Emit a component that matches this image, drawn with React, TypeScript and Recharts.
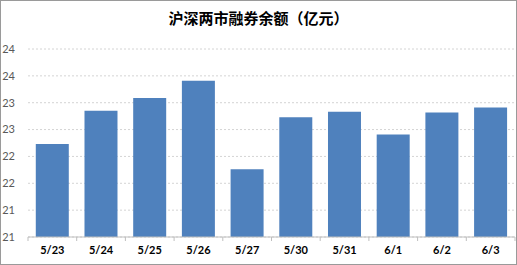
import { BarChart, Bar, XAxis, YAxis, CartesianGrid } from "recharts";

const dates = ["5/23", "5/24", "5/25", "5/26", "5/27", "5/30", "5/31", "6/1", "6/2", "6/3"];
const balances = [22.23, 22.85, 23.09, 23.41, 21.76, 22.73, 22.83, 22.41, 22.82, 22.91];
const yTicks = [20.5, 21, 21.5, 22, 22.5, 23, 23.5, 24];

const data = dates.map((date, i) => ({ date, value: balances[i] }));

const CHART_W = 515;
const CHART_H = 263;
const Y_AXIS_W = 27;
const RIGHT = 1;
const BAND = (CHART_W - Y_AXIS_W - RIGHT) / dates.length;

// category label plus the small separator tick on the left edge of each band
function DateTick(props: any) {
  const { x, y, payload, index } = props;
  const half = payload?.offset ?? BAND / 2;
  const left = x - half;
  const right = x + half;
  return (
    <g>
      <line x1={left} y1={y} x2={left} y2={y + 4} stroke="#bfbfbf" />
      {index === dates.length - 1 && (
        <line x1={right} y1={y} x2={right} y2={y + 4} stroke="#bfbfbf" />
      )}
      <text
        x={x}
        y={y + 17}
        textAnchor="middle"
        fontSize={11}
        fontWeight="bold"
        fontFamily="Lato, 'Liberation Sans', sans-serif"
        fill="#000"
      >
        {payload.value}
      </text>
    </g>
  );
}

export default function App() {
  return (
    <div
      style={{
        position: "absolute",
        left: 0,
        top: 0,
        width: 517,
        height: 265,
        boxSizing: "border-box",
        border: "1px solid #9a9a9a",
        background: "#fff",
      }}
    >
      <div
        style={{
          position: "absolute",
          left: 0,
          right: 0,
          top: 6,
          textAlign: "center",
          fontFamily: "'Noto Sans CJK SC', sans-serif",
          fontWeight: "bold",
          fontSize: 15,
          color: "#000",
        }}
      >
        沪深两市融券余额（亿元）
      </div>
      <BarChart
        width={CHART_W}
        height={CHART_H}
        data={data}
        margin={{ top: 48, right: RIGHT, left: 0, bottom: 0 }}
        barCategoryGap="16%"
      >
        <CartesianGrid vertical={false} stroke="#d4d4d4" strokeDasharray="2 2" />
        <XAxis
          dataKey="date"
          height={27}
          stroke="#bfbfbf"
          tickLine={false}
          tickSize={0}
          tickMargin={0}
          interval={0}
          tick={<DateTick />}
        />
        <YAxis
          width={Y_AXIS_W}
          domain={[20.5, 24]}
          ticks={yTicks}
          allowDataOverflow
          axisLine={false}
          tickLine={false}
          tickSize={0}
          tickMargin={13}
          tickFormatter={(v: number) => String(Math.round(v))}
          tick={{ fontSize: 11, fill: "#595959", fontFamily: "Lato, 'Liberation Sans', sans-serif" }}
        />
        <Bar dataKey="value" fill="#4f81bd" isAnimationActive={false} />
      </BarChart>
    </div>
  );
}
